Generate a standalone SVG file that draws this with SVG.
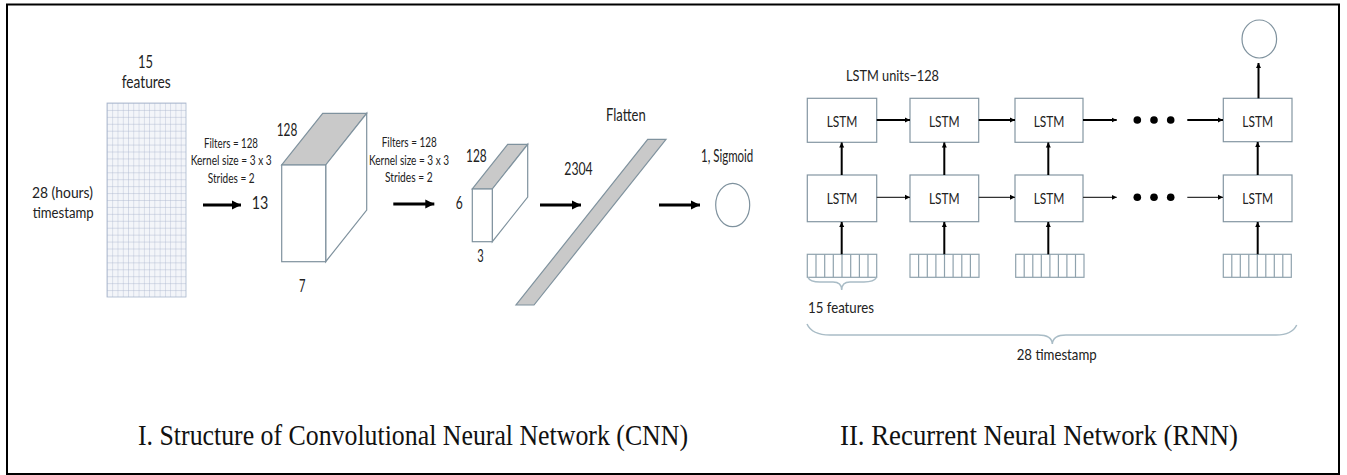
<svg xmlns="http://www.w3.org/2000/svg" width="1347" height="475" viewBox="0 0 1347 475">
<style>
  .t{font-family:Lato,"Liberation Sans",sans-serif;fill:#222;}
  .s17{font-size:17px;}
  .s16{font-size:15.5px;}
  .s13{font-size:12.5px;}
  .s15{font-size:15px;}
  .s14{font-size:14.5px;}
  .cap{font-family:"Liberation Serif","Times New Roman",serif;font-size:29px;fill:#111;}
  .sh{fill:#fff;stroke:#7f929e;stroke-width:1.2;}
  .gray{fill:#c9c9c9;stroke:#7f929e;stroke-width:1.2;}
  .box{fill:#fff;stroke:#8496a2;stroke-width:1.2;}
  .feat{fill:#fff;stroke:#8fa2ad;stroke-width:1.2;}
  .thick{stroke:#000;stroke-width:3;fill:none;}
  .ra{stroke:#000;stroke-width:2;fill:none;}
  .rb{stroke:#333;stroke-width:1.3;fill:none;}
  .brace{fill:none;stroke:#a9bcc6;stroke-width:1.5;}
</style>
<defs>
  <marker id="ah" markerUnits="userSpaceOnUse" markerWidth="10" markerHeight="10" refX="9" refY="5" orient="auto">
    <path d="M0,0.5 L9,5 L0,9.5 Z" fill="#000"/>
  </marker>
  <marker id="as" markerUnits="userSpaceOnUse" markerWidth="6" markerHeight="6" refX="5" refY="3" orient="auto">
    <path d="M0,0.5 L5,3 L0,5.5 Z" fill="#000"/>
  </marker>
  <pattern id="grid" x="107" y="103" width="5.2667" height="6.9286" patternUnits="userSpaceOnUse">
    <rect width="5.2667" height="6.9286" fill="#f3f5f9"/>
    <path d="M0,0 H5.2667 M0,0 V6.9286" stroke="#a9b6cc" stroke-width="0.8"/>
  </pattern>
</defs>
<rect x="0" y="0" width="1347" height="475" fill="#fff"/>
<rect x="7" y="4.5" width="1332" height="469.5" fill="none" stroke="#000" stroke-width="2"/>

<!-- CNN -->
<g id="input-grid">
  <rect x="107" y="103" width="79" height="194" fill="url(#grid)" stroke="#a9b6cc" stroke-width="0.8"/>
  <text class="t s17" x="138" y="68" textLength="15" lengthAdjust="spacingAndGlyphs">15</text>
  <text class="t s17" x="121.7" y="88" textLength="49" lengthAdjust="spacingAndGlyphs">features</text>
  <text class="t s16" x="32" y="198" textLength="61" lengthAdjust="spacingAndGlyphs">28 (hours)</text>
  <text class="t s16" x="32.7" y="218" textLength="61" lengthAdjust="spacingAndGlyphs">timestamp</text>
</g>
<g id="conv1-params">
  <text class="t s13" x="204" y="148" textLength="54" lengthAdjust="spacingAndGlyphs">Filters = 128</text>
  <text class="t s13" x="190.7" y="165" textLength="81" lengthAdjust="spacingAndGlyphs">Kernel size = 3 x 3</text>
  <text class="t s13" x="207.7" y="182.5" textLength="47" lengthAdjust="spacingAndGlyphs">Strides = 2</text>
</g>
<g id="conv1">
  <polygon class="gray" points="281.7,165 325.7,165 366.7,113.3 322.7,113.3"/>
  <polygon class="sh" points="325.7,165 366.7,113.3 366.7,210 325.7,261.7"/>
  <rect class="sh" x="281.7" y="165" width="44" height="96.7"/>
  <text class="t s17" x="251.7" y="209" textLength="16.6" lengthAdjust="spacingAndGlyphs">13</text>
  <text class="t s17" x="276.7" y="135.7" textLength="20.6" lengthAdjust="spacingAndGlyphs">128</text>
  <text class="t s17" x="299" y="292" textLength="6.5" lengthAdjust="spacingAndGlyphs">7</text>
</g>
<g id="conv2-params">
  <text class="t s13" x="381.7" y="147.3" textLength="55" lengthAdjust="spacingAndGlyphs">Filters = 128</text>
  <text class="t s13" x="369" y="165" textLength="80" lengthAdjust="spacingAndGlyphs">Kernel size = 3 x 3</text>
  <text class="t s13" x="385" y="182.3" textLength="47.7" lengthAdjust="spacingAndGlyphs">Strides = 2</text>
</g>
<g id="conv2">
  <polygon class="gray" points="472.3,189 492.3,189 527.7,144.3 507.7,144.3"/>
  <polygon class="sh" points="492.3,189 527.7,144.3 527.7,197 492.3,241.7"/>
  <rect class="sh" x="472.3" y="189" width="20" height="52.7"/>
  <text class="t s17" x="455.7" y="209.3" textLength="7" lengthAdjust="spacingAndGlyphs">6</text>
  <text class="t s17" x="466" y="161.7" textLength="20.7" lengthAdjust="spacingAndGlyphs">128</text>
  <text class="t s17" x="477.3" y="262.3" textLength="6.5" lengthAdjust="spacingAndGlyphs">3</text>
</g>
<g id="flatten">
  <polygon class="gray" points="647.7,139.3 666,139.3 534,305 516,305"/>
  <text class="t s17" x="606" y="120.7" textLength="39.7" lengthAdjust="spacingAndGlyphs">Flatten</text>
  <text class="t s17" x="564.3" y="175" textLength="28.4" lengthAdjust="spacingAndGlyphs">2304</text>
</g>
<g id="output-cnn">
  <ellipse class="sh" cx="732.7" cy="205" rx="17" ry="21.7"/>
  <text class="t s17" x="701" y="162" textLength="52.3" lengthAdjust="spacingAndGlyphs">1, Sigmoid</text>
</g>

<!-- RNN -->
<text class="t s15" x="846" y="80.7" textLength="93" lengthAdjust="spacingAndGlyphs">LSTM units−128</text>
<g id="lstm-top-1"><rect class="box" x="807.3" y="98.3" width="69.4" height="44"/><text class="t s14" x="842" y="126.7" text-anchor="middle" textLength="30.7" lengthAdjust="spacingAndGlyphs">LSTM</text></g>
<g id="lstm-top-2"><rect class="box" x="910" y="98.3" width="68.7" height="44"/><text class="t s14" x="944.3" y="126.7" text-anchor="middle" textLength="30.7" lengthAdjust="spacingAndGlyphs">LSTM</text></g>
<g id="lstm-top-3"><rect class="box" x="1015" y="98.3" width="68" height="44"/><text class="t s14" x="1049" y="126.7" text-anchor="middle" textLength="30.7" lengthAdjust="spacingAndGlyphs">LSTM</text></g>
<g id="lstm-top-4"><rect class="box" x="1223.3" y="98.3" width="68.7" height="43.4"/><text class="t s14" x="1257.7" y="126.7" text-anchor="middle" textLength="30.7" lengthAdjust="spacingAndGlyphs">LSTM</text></g>
<g id="lstm-bot-1"><rect class="box" x="807.3" y="175" width="69.4" height="46.7"/><text class="t s14" x="842" y="204" text-anchor="middle" textLength="30.7" lengthAdjust="spacingAndGlyphs">LSTM</text></g>
<g id="lstm-bot-2"><rect class="box" x="910" y="175" width="68.7" height="46.7"/><text class="t s14" x="944.3" y="204" text-anchor="middle" textLength="30.7" lengthAdjust="spacingAndGlyphs">LSTM</text></g>
<g id="lstm-bot-3"><rect class="box" x="1015" y="175" width="68" height="46.7"/><text class="t s14" x="1049" y="204" text-anchor="middle" textLength="30.7" lengthAdjust="spacingAndGlyphs">LSTM</text></g>
<g id="lstm-bot-4"><rect class="box" x="1223.3" y="175" width="68.7" height="46.7"/><text class="t s14" x="1257.7" y="204" text-anchor="middle" textLength="30.7" lengthAdjust="spacingAndGlyphs">LSTM</text></g>

<g id="feat-1"><rect class="feat" x="807.3" y="254.3" width="69.4" height="23"/><path class="feat" d="M816,254.3V277.3M824.7,254.3V277.3M833.3,254.3V277.3M842,254.3V277.3M850.7,254.3V277.3M859.4,254.3V277.3M868,254.3V277.3"/></g>
<g id="feat-2"><rect class="feat" x="910" y="254.3" width="69" height="23"/><path class="feat" d="M918.6,254.3V277.3M927.3,254.3V277.3M935.9,254.3V277.3M944.5,254.3V277.3M953.1,254.3V277.3M961.8,254.3V277.3M970.4,254.3V277.3"/></g>
<g id="feat-3"><rect class="feat" x="1015.7" y="254.3" width="68.3" height="23"/><path class="feat" d="M1024.2,254.3V277.3M1032.8,254.3V277.3M1041.3,254.3V277.3M1049.9,254.3V277.3M1058.4,254.3V277.3M1066.9,254.3V277.3M1075.5,254.3V277.3"/></g>
<g id="feat-4"><rect class="feat" x="1223.3" y="254.3" width="68" height="23"/><path class="feat" d="M1231.8,254.3V277.3M1240.3,254.3V277.3M1248.8,254.3V277.3M1257.3,254.3V277.3M1265.8,254.3V277.3M1274.3,254.3V277.3M1282.8,254.3V277.3"/></g>

<g id="output-rnn"><ellipse class="sh" cx="1259.3" cy="39" rx="17.3" ry="19"/></g>

<g id="dots">
  <circle cx="1137.3" cy="120" r="3.8" fill="#000"/><circle cx="1154" cy="120" r="3.8" fill="#000"/><circle cx="1170.7" cy="120" r="3.8" fill="#000"/>
  <circle cx="1137.3" cy="197.3" r="3.8" fill="#000"/><circle cx="1154" cy="197.3" r="3.8" fill="#000"/><circle cx="1170.7" cy="197.3" r="3.8" fill="#000"/>
</g>

<g id="braces">
  <path class="brace" d="M808,277.5 Q810,282 820,282 H833 Q841.7,282 841.7,290 Q841.7,282 850,282 H864 Q874,282 876.5,277.5"/>
  <text class="t s15" x="808" y="312.7" textLength="66" lengthAdjust="spacingAndGlyphs">15 features</text>
  <path class="brace" d="M807,324 Q812,335 830,335 H1038 Q1052,335 1052.3,344 Q1053,335 1066,335 H1276 Q1292,335 1296.7,325"/>
  <text class="t s15" x="1016.7" y="360" textLength="80" lengthAdjust="spacingAndGlyphs">28 timestamp</text>
</g>

<g id="connectors">
  <line class="thick" x1="203" y1="205" x2="241" y2="205" marker-end="url(#ah)"/>
  <line class="thick" x1="393.3" y1="204" x2="434.3" y2="204" marker-end="url(#ah)"/>
  <line class="thick" x1="540" y1="205" x2="581" y2="205" marker-end="url(#ah)"/>
  <line class="thick" x1="659" y1="205" x2="700" y2="205" marker-end="url(#ah)"/>

  <line class="ra" x1="876.7" y1="120" x2="910" y2="120" marker-end="url(#as)"/>
  <line class="ra" x1="978.7" y1="120" x2="1015" y2="120" marker-end="url(#as)"/>
  <line class="ra" x1="1083" y1="120" x2="1116.7" y2="120" marker-end="url(#as)"/>
  <line class="ra" x1="1187.3" y1="120" x2="1223" y2="120" marker-end="url(#as)"/>

  <line class="rb" x1="876.7" y1="197.3" x2="910" y2="197.3" marker-end="url(#as)"/>
  <line class="rb" x1="978.7" y1="197.3" x2="1015" y2="197.3" marker-end="url(#as)"/>
  <line class="rb" x1="1083" y1="197.3" x2="1116.7" y2="197.3" marker-end="url(#as)"/>
  <line class="rb" x1="1187.3" y1="197.3" x2="1223" y2="197.3" marker-end="url(#as)"/>

  <line class="ra" x1="841.7" y1="175" x2="841.7" y2="142.5" marker-end="url(#as)"/>
  <line class="ra" x1="944.3" y1="175" x2="944.3" y2="142.5" marker-end="url(#as)"/>
  <line class="ra" x1="1048.3" y1="175" x2="1048.3" y2="142.5" marker-end="url(#as)"/>
  <line class="ra" x1="1257.7" y1="175" x2="1257.7" y2="142" marker-end="url(#as)"/>

  <line class="ra" x1="841.7" y1="254.3" x2="841.7" y2="222" marker-end="url(#as)"/>
  <line class="ra" x1="944.3" y1="254.3" x2="944.3" y2="222" marker-end="url(#as)"/>
  <line class="ra" x1="1048.3" y1="254.3" x2="1048.3" y2="222" marker-end="url(#as)"/>
  <line class="ra" x1="1257.7" y1="254.3" x2="1257.7" y2="222" marker-end="url(#as)"/>

  <line class="ra" x1="1258.5" y1="98.3" x2="1258.5" y2="63" marker-end="url(#as)"/>
</g>

<g id="captions">
  <text class="cap" x="138" y="445" textLength="550" lengthAdjust="spacingAndGlyphs">I. Structure of Convolutional Neural Network (CNN)</text>
  <text class="cap" x="840" y="445" textLength="398" lengthAdjust="spacingAndGlyphs">II. Recurrent Neural Network (RNN)</text>
</g>
</svg>
